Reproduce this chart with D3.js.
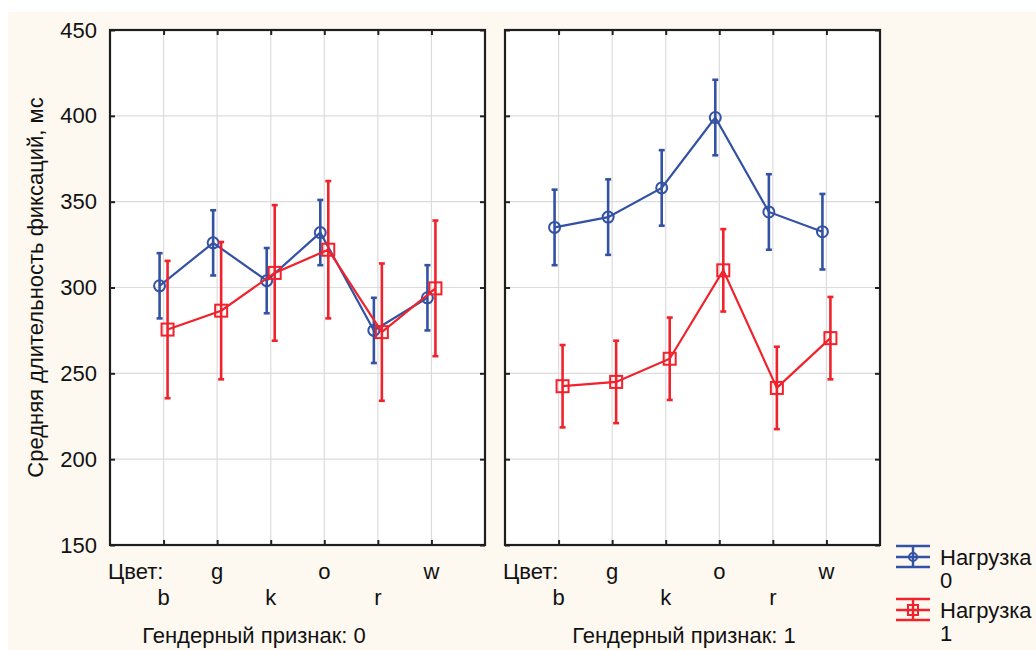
<!DOCTYPE html>
<html>
<head>
<meta charset="utf-8">
<script src="https://cdn.jsdelivr.net/npm/d3@7/dist/d3.min.js"></script>
<style>
  html, body { margin: 0; padding: 0; background: #ffffff; }
  svg { display: block; }
  text { font-family: "Liberation Sans", Arial, sans-serif; fill: #111; }
</style>
</head>
<body>
<svg id="chart" width="1036" height="650"></svg>
<script>
// Colour categories along the x axis
const colors = ["b", "g", "k", "o", "r", "w"];
// Panels by gender attribute
const genders = ["0", "1"];
// Load groups
const loads = ["0", "1"];

// Mean fixation duration, ms: [gender][colour]
const meanLoad0 = [
  [301, 326, 304, 332, 275, 294],
  [335, 341, 358, 399, 344, 332.5]
];
const meanLoad1 = [
  [275.5, 286.5, 308.5, 322, 274, 299.5],
  [242.5, 245, 258.5, 310, 241.5, 270.5]
];
// Half-width of the confidence interval, ms
const errLoad0 = [
  [19, 19, 19, 19, 19, 19],
  [22, 22, 22, 22, 22, 22]
];
const errLoad1 = [
  [40, 40, 39.5, 40, 40, 39.5],
  [24, 24, 24, 24, 24, 24]
];
const yTicks = [150, 200, 250, 300, 350, 400, 450];

const seriesColor = ["#3452a4", "#f0222c"];
const seriesOffset = [-4, 4];
const fontSize = "22px";

const svg = d3.select("#chart");

// cream page background
svg.append("rect")
  .attr("x", 8).attr("y", 12)
  .attr("width", 1036 - 8).attr("height", 650 - 12)
  .attr("fill", "#fdf8f0");

const plotTop = 30, plotBottom = 545;
const panelX = [[110, 485], [505, 880]];

const y = d3.scaleLinear().domain([150, 450]).range([plotBottom, plotTop]);

genders.forEach((g, gi) => {
  const [x0, x1] = panelX[gi];
  const x = d3.scaleLinear().domain([0, colors.length + 1]).range([x0, x1]);
  const panel = svg.append("g");

  panel.append("rect")
    .attr("x", x0).attr("y", plotTop)
    .attr("width", x1 - x0).attr("height", plotBottom - plotTop)
    .attr("fill", "#ffffff");

  // grid
  panel.append("g").selectAll("line")
    .data(yTicks.slice(1, -1))
    .join("line")
    .attr("x1", x0).attr("x2", x1)
    .attr("y1", d => y(d)).attr("y2", d => y(d))
    .attr("stroke", "#dcdcdc").attr("stroke-width", 1.2);
  panel.append("g").selectAll("line")
    .data(d3.range(1, colors.length + 1))
    .join("line")
    .attr("x1", d => x(d)).attr("x2", d => x(d))
    .attr("y1", plotTop).attr("y2", plotBottom)
    .attr("stroke", "#dcdcdc").attr("stroke-width", 1.2);

  // axes with inward ticks
  const yl = d3.axisLeft(y).tickValues(yTicks).tickSize(-5).tickPadding(13);
  const gyl = panel.append("g").attr("transform", `translate(${x0},0)`).call(yl);
  if (gi > 0) gyl.selectAll("text").remove();
  const gyr = panel.append("g").attr("transform", `translate(${x1},0)`)
    .call(d3.axisRight(y).tickValues(yTicks).tickSize(-5));
  gyr.selectAll("text").remove();

  const xt = d3.range(1, colors.length + 1);
  const gxb = panel.append("g").attr("transform", `translate(0,${plotBottom})`)
    .call(d3.axisBottom(x).tickValues(xt).tickSize(-5));
  gxb.selectAll("text").remove();
  const gxt = panel.append("g").attr("transform", `translate(0,${plotTop})`)
    .call(d3.axisTop(x).tickValues(xt).tickSize(-5));
  gxt.selectAll("text").remove();

  [gyl, gyr, gxb, gxt].forEach(a => {
    a.select(".domain").remove();
    a.selectAll(".tick line").attr("stroke", "#222").attr("stroke-width", 2);
    a.selectAll("text").style("font-size", fontSize).attr("fill", "#111")
      .style("font-family", '"Liberation Sans", Arial, sans-serif');
  });

  panel.append("rect")
    .attr("x", x0).attr("y", plotTop)
    .attr("width", x1 - x0).attr("height", plotBottom - plotTop)
    .attr("fill", "none").attr("stroke", "#1e1e1e").attr("stroke-width", 2.2);

  // x labels in two staggered rows
  panel.append("text")
    .attr("x", x0 - 2).attr("y", 579)
    .style("font-size", fontSize).text("Цвет:");
  panel.append("g").selectAll("text")
    .data(colors)
    .join("text")
    .attr("x", (d, i) => x(i + 1))
    .attr("y", (d, i) => i % 2 === 0 ? 605 : 579)
    .attr("text-anchor", "middle")
    .style("font-size", fontSize)
    .text(d => d);

  const means = [meanLoad0[gi], meanLoad1[gi]];
  const errs = [errLoad0[gi], errLoad1[gi]];

  loads.forEach((l, li) => {
    const col = seriesColor[li];
    const off = seriesOffset[li];
    const pts = means[li].map((m, i) => ({ i, m, e: errs[li][i] }));
    const sg = panel.append("g");

    sg.append("path")
      .datum(pts)
      .attr("fill", "none").attr("stroke", col).attr("stroke-width", 2.2)
      .attr("d", d3.line().x(d => x(d.i + 1) + off).y(d => y(d.m)));

    const eb = sg.append("g").selectAll("g").data(pts).join("g");
    eb.append("line")
      .attr("x1", d => x(d.i + 1) + off).attr("x2", d => x(d.i + 1) + off)
      .attr("y1", d => y(d.m + d.e)).attr("y2", d => y(d.m - d.e))
      .attr("stroke", col).attr("stroke-width", 2.6);
    [1, -1].forEach(s => {
      eb.append("line")
        .attr("x1", d => x(d.i + 1) + off - 3).attr("x2", d => x(d.i + 1) + off + 3)
        .attr("y1", d => y(d.m + s * d.e)).attr("y2", d => y(d.m + s * d.e))
        .attr("stroke", col).attr("stroke-width", 2.6);
    });

    if (li === 0) {
      sg.append("g").selectAll("circle").data(pts).join("circle")
        .attr("cx", d => x(d.i + 1) + off).attr("cy", d => y(d.m))
        .attr("r", 5.5)
        .attr("fill", "none").attr("stroke", col).attr("stroke-width", 2);
    } else {
      sg.append("g").selectAll("rect").data(pts).join("rect")
        .attr("x", d => x(d.i + 1) + off - 6).attr("y", d => y(d.m) - 6)
        .attr("width", 12).attr("height", 12)
        .attr("fill", "none").attr("stroke", col).attr("stroke-width", 2);
    }
  });

  // panel caption
  panel.append("text")
    .attr("x", gi === 0 ? 254 : 684).attr("y", 643)
    .attr("text-anchor", "middle")
    .style("font-size", fontSize)
    .text("Гендерный признак: " + g);
});

// y axis title
svg.append("text")
  .attr("transform", `translate(43,${(plotTop + plotBottom) / 2}) rotate(-90)`)
  .attr("text-anchor", "middle")
  .style("font-size", fontSize)
  .text("Средняя длительность фиксаций, мс");

// legend
const legend = svg.append("g");
loads.forEach((l, li) => {
  const cy = 557 + li * 53;
  const col = seriesColor[li];
  const lg = legend.append("g");
  [-11, 0, 10].forEach(dy => {
    lg.append("line")
      .attr("x1", 896).attr("x2", 930)
      .attr("y1", cy + dy).attr("y2", cy + dy)
      .attr("stroke", col).attr("stroke-width", 2.4);
  });
  lg.append("line")
    .attr("x1", 913).attr("x2", 913)
    .attr("y1", cy - 11).attr("y2", cy + 10)
    .attr("stroke", col).attr("stroke-width", 2.4);
  if (li === 0) {
    lg.append("circle").attr("cx", 913).attr("cy", cy).attr("r", 4)
      .attr("fill", "none").attr("stroke", col).attr("stroke-width", 2);
  } else {
    lg.append("rect").attr("x", 908).attr("y", cy - 5).attr("width", 10).attr("height", 10)
      .attr("fill", "none").attr("stroke", col).attr("stroke-width", 2);
  }
  lg.append("text").attr("x", 940).attr("y", cy + 8)
    .style("font-size", fontSize).text("Нагрузка");
  lg.append("text").attr("x", 940).attr("y", cy + 31)
    .style("font-size", fontSize).text(l);
});
</script>
</body>
</html>
